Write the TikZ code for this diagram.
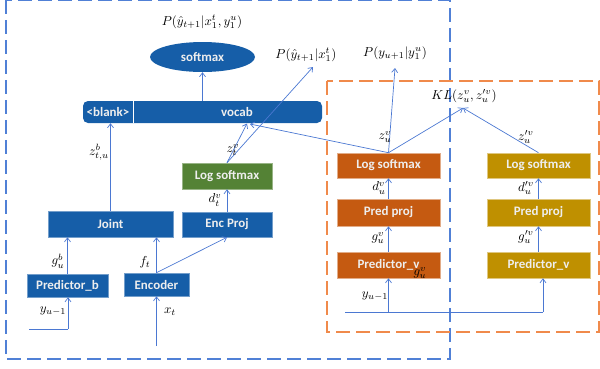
\documentclass[tikz,border=0pt]{standalone}
\usepackage{fontspec}
\newfontfamily\boxfont{Carlito}
\usetikzlibrary{arrows.meta,shapes.geometric}
\definecolor{bblue}{RGB}{22,94,168}
\definecolor{borange}{RGB}{197,90,17}
\definecolor{byellow}{RGB}{191,144,0}
\definecolor{bgreen}{RGB}{84,130,53}
\definecolor{arrowc}{RGB}{75,120,210}
\definecolor{dashblue}{RGB}{80,128,214}
\definecolor{dashorange}{RGB}{240,138,75}
\definecolor{btext}{RGB}{238,238,238}
\begin{document}
\begin{tikzpicture}[x=1bp,y=-1bp,
  blk/.style={rectangle, inner sep=0pt, text=btext, font=\boxfont\bfseries\fontsize{13}{15}\selectfont},
  blueblk/.style={blk, fill=bblue, draw=bblue!60!white, line width=0.6pt},
  orblk/.style={blk, fill=borange, draw=borange!50!white, line width=0.6pt, minimum width=103bp},
  yeblk/.style={blk, fill=byellow, draw=byellow!50!white, line width=0.6pt, minimum width=103bp},
  arr/.style={draw=arrowc, line width=0.7pt, -{Straight Barb[length=4bp,width=6bp]}},
  ln/.style={draw=arrowc, line width=0.7pt},
  lbl/.style={inner sep=0pt, font=\fontsize{10}{12}\selectfont, scale=1.3},
]
\useasboundingbox (0,0) rectangle (600,368);
% dashed frames
\draw[dashblue, line width=1.8pt, dash pattern=on 14bp off 6bp] (6,0) rectangle (450,359);
\draw[dashorange, line width=1.8pt, dash pattern=on 14bp off 6bp] (327,81) rectangle (599,332);

% top softmax and vocab bar
\node[ellipse, fill=bblue, inner sep=0pt, minimum width=105bp, minimum height=30bp, text=btext, font=\boxfont\bfseries\fontsize{13}{15}\selectfont] (sm) at (202.5,57) {softmax};
\node[rectangle, fill=bblue, rounded corners=5bp, minimum width=239bp, minimum height=22bp, inner sep=0pt] (bar) at (202.5,112) {};
\draw[white, line width=0.8pt] (133,101) -- (133,123);
\node[blk] (blank) at (108,112) {\textless blank\textgreater};
\node[blk] (vocab) at (237,112) {vocab};

% left blue column
\node[blueblk, minimum width=125bp, minimum height=26bp] (joint) at (110.5,224) {Joint};
\node[blueblk, minimum width=90bp, minimum height=25bp] (ep) at (227,224.5) {Enc Proj};
\node[blk, fill=bgreen, draw=bgreen!60!white, line width=0.6pt, minimum width=90bp, minimum height=26bp] (lsg) at (227,176) {Log softmax};
\node[blueblk, minimum width=65bp, minimum height=23bp] (enc) at (156.5,284.5) {Encoder};
\node[blueblk, minimum width=81bp, minimum height=23bp] (pb) at (67.5,285.5) {Predictor\_b};

% orange column
\node[orblk, minimum height=25bp] (lso) at (388.5,165.5) {Log softmax};
\node[orblk, minimum height=27bp] (ppo) at (388.5,212.5) {Pred proj};
\node[orblk, minimum height=26bp] (pvo) at (388.5,265) {Predictor\_v};
% yellow column
\node[yeblk, minimum height=25bp] (lsy) at (538.5,165.5) {Log softmax};
\node[yeblk, minimum height=27bp] (ppy) at (538.5,212.5) {Pred proj};
\node[yeblk, minimum height=26bp] (pvy) at (538.5,265) {Predictor\_v};

% output labels
\node[lbl] (p1) at (202,22) {$P(\hat{y}_{t+1}|x_1^t,y_1^u)$};
\node[lbl] (p2) at (306,55) {$P(\hat{y}_{t+1}|x_1^t)$};
\node[lbl] (p3) at (395,53) {$P(y_{u+1}|y_1^u)$};
\node[lbl] (kl) at (464,96) {$KL(z_u^v,z_u^{\prime v})$};

% coordinates
\coordinate (v1) at (247,123.5);
\coordinate (v2) at (250,124);
\coordinate (p2t) at (313,67);
\coordinate (p3t) at (395,68);
\coordinate (klt) at (463,108);
\coordinate (xin) at (156.5,346);
\coordinate (yb0) at (29,329);
\coordinate (yb1) at (68,329);
\coordinate (yv0) at (345,312);
\coordinate (yv1) at (388.5,312);
\coordinate (yv2) at (543,312);

% connectors left
\draw[arr] (bar.north) -- (sm.south);
\draw[arr] (joint.north) -- (joint.north |- bar.south);
\draw[arr] (pb.north) -- (pb.north |- joint.south);
\draw[arr] (enc.north) -- (enc.north |- joint.south);
\draw[arr] (enc.north) -- (ep.south);
\draw[arr] (ep.north) -- (lsg.south);
\draw[arr] (lsg.north) -- (v1);
\draw[arr] (lsg.north) -- (p2t);
\draw[arr] (xin) -- (enc.south);
\draw[ln] (yb0) -- (yb1);
\draw[arr] (yb1) -- (yb1 |- pb.south);

% connectors right
\draw[arr] (lso.north) -- (v2);
\draw[arr] (lso.north) -- (p3t);
\draw[arr] (lso.north) -- (klt);
\draw[arr] (lsy.north) -- (klt);
\draw[arr] (ppo.north) -- (lso.south);
\draw[arr] (pvo.north) -- (ppo.south);
\draw[arr] (ppy.north) -- (lsy.south);
\draw[arr] (pvy.north) -- (ppy.south);
\draw[ln] (yv0) -- (yv2);
\draw[arr] (yv1) -- (pvo.south);
\draw[arr] (yv2) -- (yv2 |- pvy.south);

% edge labels
\node[lbl] (lzb) at (99,152) {$z_{t,u}^b$};
\node[lbl] (lzt) at (233,150) {$z_t^v$};
\node[lbl] (ldt) at (215,200) {$d_t^v$};
\node[lbl] (lft) at (145,262) {$f_t$};
\node[lbl] (lgb) at (58,261) {$g_u^b$};
\node[lbl] (lyb) at (53,311) {$y_{u-1}$};
\node[lbl] (lxt) at (170,312) {$x_t$};
\node[lbl] (lzu) at (385,137) {$z_u^v$};
\node[lbl] (lzu2) at (526,137) {$z_u^{\prime v}$};
\node[lbl] (ldu) at (379,188) {$d_u^v$};
\node[lbl] (ldu2) at (526,188) {$d_u^{\prime v}$};
\node[lbl] (lgu) at (378,238) {$g_u^v$};
\node[lbl] (lgu2) at (526,237) {$g_u^{\prime v}$};
\node[lbl] (lgux) at (420,273) {$g_u^v$};
\node[lbl] (lyv) at (375,296) {$y_{u-1}$};
\end{tikzpicture}
\end{document}
